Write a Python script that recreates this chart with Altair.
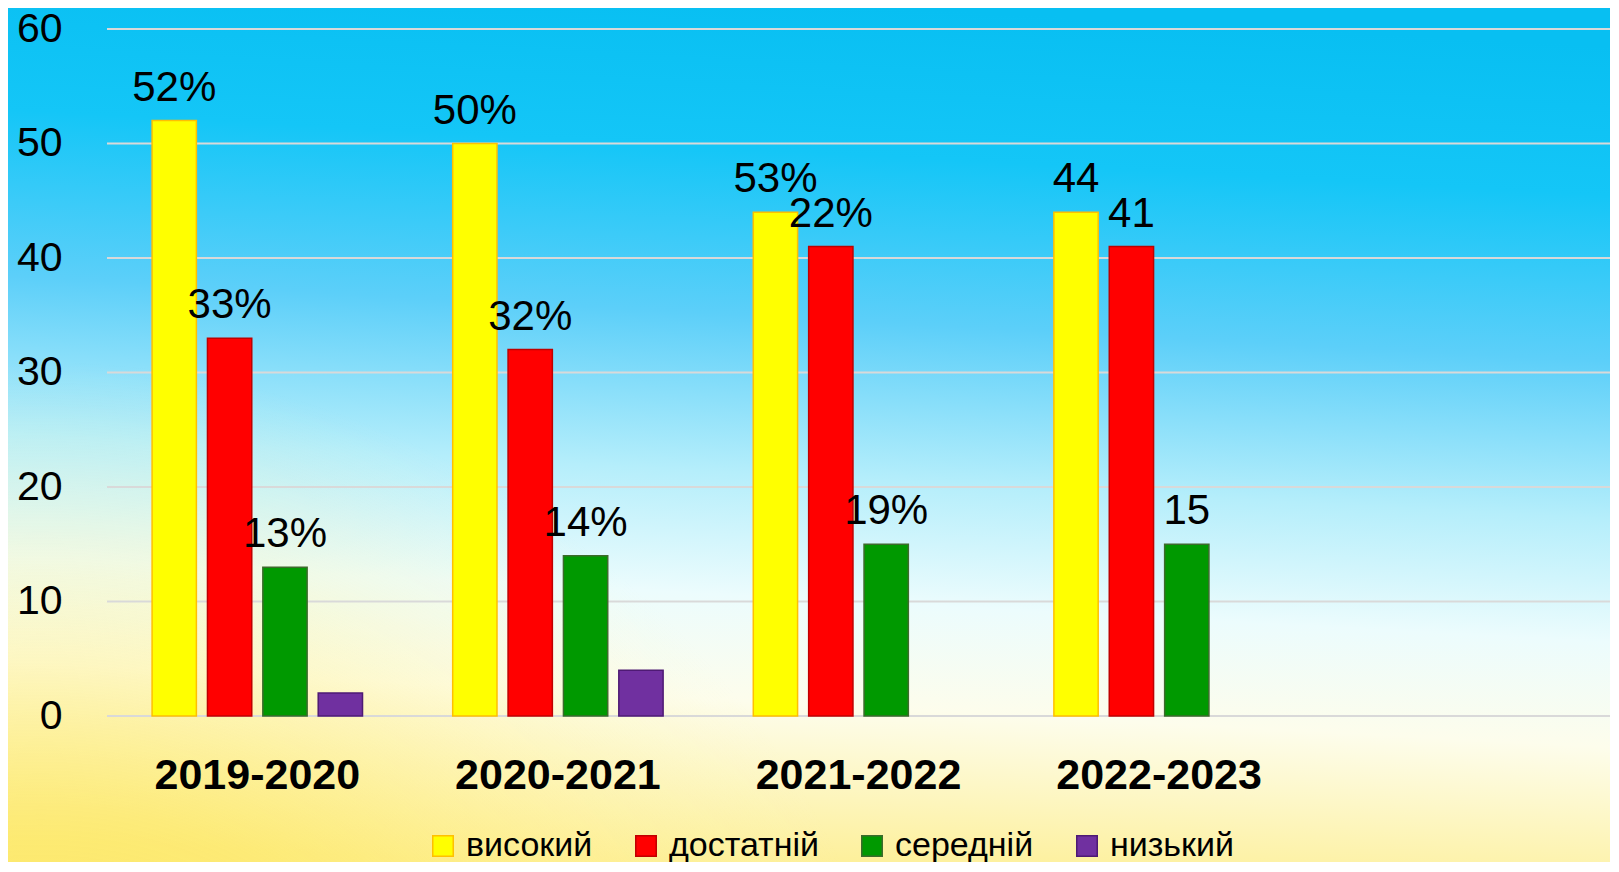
import altair as alt
import pandas as pd

years = ["2019-2020", "2020-2021", "2021-2022", "2022-2023"]
x_slots = years + [" "]
levels = ["високий", "достатній", "середній", "низький"]
y_ticks = [0, 10, 20, 30, 40, 50, 60]

high = [52, 50, 44, 44]
enough = [33, 32, 41, 41]
middle = [13, 14, 15, 15]
low = [2, 4, None, None]

high_lbl = ["52%", "50%", "53%", "44"]
enough_lbl = ["33%", "32%", "22%", "41"]
middle_lbl = ["13%", "14%", "19%", "15"]
low_lbl = [None, None, None, None]

fills = ["#ffff00", "#ff0000", "#009900", "#7030a0"]
strokes = ["#ffc000", "#c00000", "#3d6b2c", "#4e1a74"]

rows = []
for lev, vals, lbls in zip(levels, [high, enough, middle, low],
                           [high_lbl, enough_lbl, middle_lbl, low_lbl]):
    for yr, v, l in zip(years, vals, lbls):
        if v is not None:
            rows.append({"year": yr, "level": lev, "value": v, "label": l})
df = pd.DataFrame(rows)
grid_df = pd.DataFrame({"value": y_ticks})

W, H = 1503, 687
FONT = "Liberation Sans"

bg_lin = alt.LinearGradient(
    gradient="linear", x1=0.55, y1=0, x2=0.45, y2=1,
    stops=[
        alt.GradientStop(color="#08bff2", offset=0),
        alt.GradientStop(color="#14c6f7", offset=0.17),
        alt.GradientStop(color="#5ccff9", offset=0.36),
        alt.GradientStop(color="#b5eefb", offset=0.54),
        alt.GradientStop(color="#ecfcfd", offset=0.68),
        alt.GradientStop(color="#fdfdec", offset=0.80),
        alt.GradientStop(color="#fdee90", offset=1),
    ],
)
bg_rad = alt.RadialGradient(
    gradient="radial", x1=0.02, y1=1.0, r1=0, x2=0.02, y2=1.0, r2=0.55,
    stops=[
        alt.GradientStop(color="rgba(252,220,50,0.95)", offset=0),
        alt.GradientStop(color="rgba(253,232,100,0.6)", offset=0.5),
        alt.GradientStop(color="rgba(255,248,190,0)", offset=1),
    ],
)

one = pd.DataFrame({"a": [0]})
bg1 = alt.Chart(one).mark_rect(fill=bg_lin).encode(
    x=alt.value(-99), x2=alt.value(W + 20), y=alt.value(-21), y2=alt.value(H + 160)
)
bg2 = alt.Chart(one).mark_rect(fill=bg_rad).encode(
    x=alt.value(-99), x2=alt.value(W + 20), y=alt.value(-21), y2=alt.value(H + 160)
)

xenc = alt.X("year:N", sort=x_slots,
             scale=alt.Scale(domain=x_slots, paddingInner=0.3, paddingOuter=0.15),
             axis=alt.Axis(title=None, labelAngle=0, labelFont=FONT, labelFontSize=43,
                           labelFontWeight="bold", labelColor="#000000", labelPadding=38,
                           labelLimit=0, ticks=False, domain=False, grid=False, zindex=1))
yscale = alt.Scale(domain=[0, 60], nice=False)
yenc = alt.Y("value:Q", scale=yscale,
             axis=alt.Axis(title=None, values=y_ticks,
                           labelFont=FONT, labelFontSize=41, labelColor="#000000",
                           labelPadding=45, ticks=False, domain=False, grid=False,
                           zindex=1))
xoff = alt.XOffset("level:N", sort=levels,
                   scale=alt.Scale(domain=levels, paddingInner=0.2, paddingOuter=0))

grid = alt.Chart(grid_df).mark_rule(color="#d9d9d9", strokeWidth=2).encode(
    y=yenc,
    x=alt.value(0), x2=alt.value(W),
)

bars = alt.Chart(df).mark_bar(strokeWidth=1.5).encode(
    x=xenc, y=yenc, xOffset=xoff,
    fill=alt.Fill("level:N", sort=levels,
                  scale=alt.Scale(domain=levels, range=fills),
                  legend=alt.Legend(title=None, orient="none", direction="horizontal",
                                    columns=4, legendX=319, legendY=800,
                                    symbolType="square", symbolSize=420,
                                    symbolStrokeWidth=1.5, labelFont=FONT,
                                    labelFontSize=34, labelColor="#000000",
                                    labelOffset=6, columnPadding=36, zindex=1)),
    stroke=alt.Stroke("level:N", sort=levels,
                      scale=alt.Scale(domain=levels, range=strokes), legend=None),
)

labels = alt.Chart(df).transform_filter("datum.label != null").mark_text(
    font=FONT, fontSize=42, color="#000000", baseline="alphabetic", align="center", dy=-20
).encode(x=xenc, y=yenc, xOffset=xoff, text="label:N")

chart = alt.layer(bg1, bg2, grid, bars, labels).properties(
    width=W, height=H,
    autosize=alt.AutoSizeParams(type="none"),
    padding={"left": 99, "top": 21, "right": 0, "bottom": 146},
).configure_view(stroke=None).configure(background="#ffffff")

chart.save("out.html", embed_options={"renderer": "svg", "actions": False})
